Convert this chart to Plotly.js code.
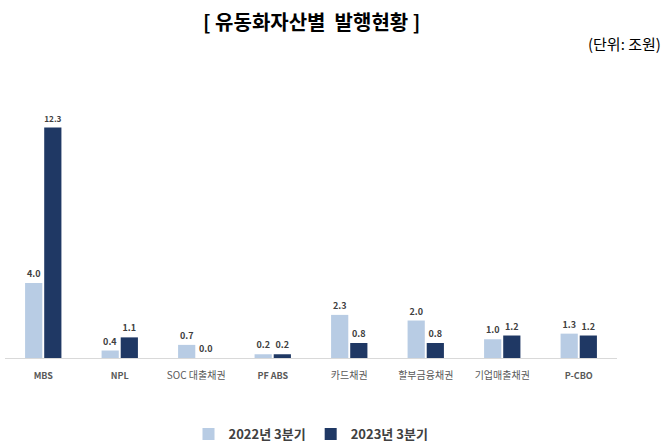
<!DOCTYPE html>
<html>
<head>
<meta charset="utf-8">
<script src="https://cdn.plot.ly/plotly-3.0.1.min.js"></script>
<style>
  body { margin: 0; background: #fff; }
  #chart { width: 667px; height: 445px; }
</style>
</head>
<body>
<div id="chart"></div>
<script>
// 유동화자산별 발행현황 (단위: 조원)
let categories = ['MBS', 'NPL', 'SOC 대출채권', 'PF ABS', '카드채권', '할부금융채권', '기업매출채권', 'P-CBO'];
let q3_2022 = [4.0, 0.4, 0.7, 0.2, 2.3, 2.0, 1.0, 1.3];
let q3_2023 = [12.3, 1.1, 0.0, 0.2, 0.8, 0.8, 1.2, 1.2];
let seriesNames = ['2022년 3분기', '2023년 3분기'];

const font = '"Noto Sans CJK KR", "Noto Sans", sans-serif';

// latin-only names are drawn bold and a bit smaller, like the original
let tickText = categories.map(c => /^[A-Za-z\- ]+$/.test(c)
  ? '<span style="font-size:9px;font-weight:bold">' + c + '</span>'
  : c)

const trace1 = {
  x: categories,
  y: q3_2022,
  name: seriesNames[0],
  type: 'bar',
  marker: { color: '#b8cce4' },
  texttemplate: '<b>%{y:.1f}</b>',
  textposition: 'outside',
  cliponaxis: false,
  textfont: { size: 9, color: '#404040' }
}
const trace2 = {
  x: categories,
  y: q3_2023,
  name: seriesNames[1],
  type: 'bar',
  marker: { color: '#1f3864' },
  texttemplate: '<b>%{y:.1f}</b>',
  textposition: 'outside',
  cliponaxis: false,
  textfont: { size: 9, color: '#404040' }
}

const layout = {
  width: 667,
  height: 445,
  margin: { l: 5, r: 50, t: 60, b: 87, autoexpand: false },
  font: { family: font, color: '#404040' },
  paper_bgcolor: '#fff',
  plot_bgcolor: '#fff',
  barmode: 'group',
  bargap: 0.5,
  bargroupgap: 0.1,
  showlegend: true,
  legend: {
    orientation: 'h',
    x: 0.5, xanchor: 'center',
    y: -0.255, yanchor: 'middle',
    font: { size: 13, color: '#404040', weight: 'bold' },
    itemwidth: 30,
    tracegroupgap: 0
  },
  xaxis: {
    type: 'category',
    tickvals: categories,
    ticktext: tickText,
    showgrid: false,
    showline: true,
    linecolor: '#d9d9d9',
    linewidth: 1,
    ticks: 'outside',
    ticklen: 8,
    tickcolor: 'rgba(0,0,0,0)',
    tickfont: { size: 10, color: '#595959' },
    tickangle: 0,
    automargin: false,
    fixedrange: true
  },
  yaxis: {
    range: [0, 15.9],
    visible: false,
    showgrid: false,
    zeroline: false,
    fixedrange: true
  },
  annotations: [
    {
      text: '<b>[ 유동화자산별  발행현황 ]</b>',
      xref: 'paper', yref: 'paper',
      x: 306 / 612, y: 1, yshift: 39,
      xanchor: 'center', yanchor: 'middle',
      showarrow: false,
      font: { size: 20, color: '#000', family: font }
    },
    {
      text: '(단위: 조원)',
      xref: 'paper', yref: 'paper',
      x: 1, xshift: 46, y: 1, yshift: 17,
      xanchor: 'right', yanchor: 'middle',
      showarrow: false,
      font: { size: 15, color: '#000', family: font }
    }
  ]
}

Plotly.newPlot('chart', [trace1, trace2], layout, { displayModeBar: false, staticPlot: true })
</script>
</body>
</html>
